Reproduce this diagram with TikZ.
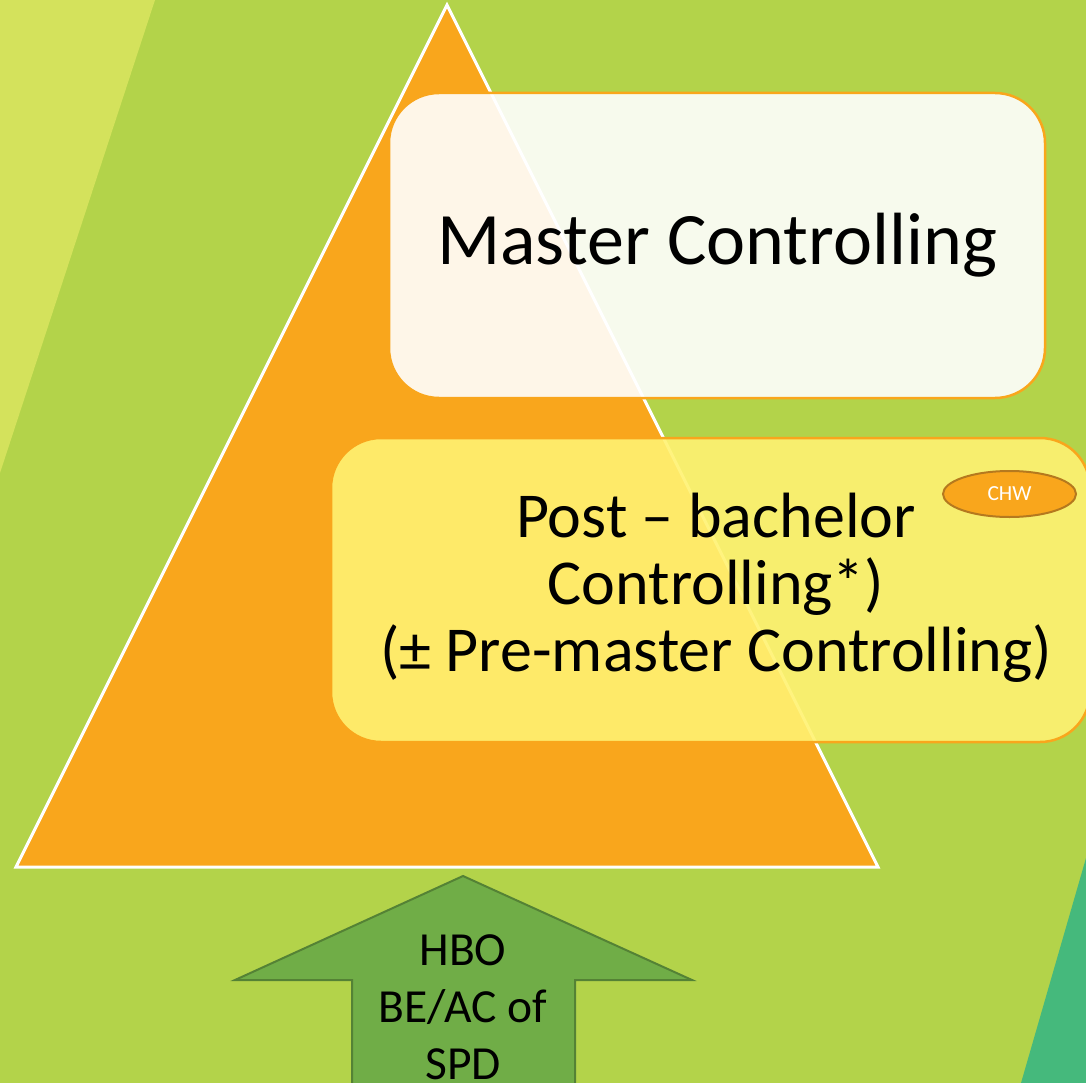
\documentclass[tikz,border=0pt]{standalone}
\usepackage{fontspec}
\setmainfont{Carlito}
\usetikzlibrary{arrows, shapes.geometric}

\definecolor{bggreen}{HTML}{B3D34A}
\definecolor{lightband}{HTML}{D4E25C}
\definecolor{tealband}{HTML}{45B97C}
\definecolor{pyrorange}{HTML}{F9A61C}
\definecolor{boxyellow}{HTML}{FFF272}
\definecolor{chwedge}{HTML}{B5791E}
\definecolor{arrowgreen}{HTML}{70AD47}
\definecolor{arrowedge}{HTML}{548235}

\tikzset{
  levelbox/.style={draw=pyrorange, line width=2.5pt, rounded corners=50pt, fill opacity=.9, text opacity=1, inner sep=0pt},
}

\begin{document}
\begin{tikzpicture}[>=latex, x=1pt, y=-1pt]
\useasboundingbox (0,0) rectangle (1086,1083);
\clip (0,0) rectangle (1086,1083);
% background
\fill[bggreen] (0,0) rectangle (1086,1083);
\fill[lightband] (0,0) -- (155,0) -- (0,473) -- cycle;
\fill[tealband] (1086,858) -- (1086,1083) -- (1021,1083) -- cycle;

% pyramid
\draw[white, line width=3pt, fill=pyrorange, line join=miter] (447,5) -- (878,867) -- (16,867) -- cycle;

% levels
\node[levelbox, fill=white, minimum width=656pt, minimum height=305pt] (master) at (717,245.5) {};
\node[font=\fontsize{74}{90}\selectfont] (mastertext) at (717,245) {Master Controlling};

\node[levelbox, fill=boxyellow, minimum width=759pt, minimum height=304pt] (postbach) at (710.5,590) {};
\node[font=\fontsize{64}{67}\selectfont, align=center] (postbachtext) at (716,588)
  {Post -- bachelor\\Controlling*)\\(± Pre-master Controlling)};

\node[ellipse, draw=chwedge, line width=2pt, fill=pyrorange, minimum width=133pt, minimum height=46pt,
  inner sep=0pt, text=white, font=\fontsize{21.5}{24}\selectfont] (chw) at (1009.5,494) {CHW};

% entry arrow
\draw[arrowedge, line width=2pt, fill=arrowgreen, line join=miter]
  (463,876) -- (692,980) -- (575,980) -- (575,1100) -- (352,1100) -- (352,980) -- (235,980) -- cycle;
\node[font=\fontsize{47.5}{57}\selectfont, align=center] (hbo) at (463,1007) {HBO\\BE/AC of\\SPD};

\end{tikzpicture}
\end{document}
